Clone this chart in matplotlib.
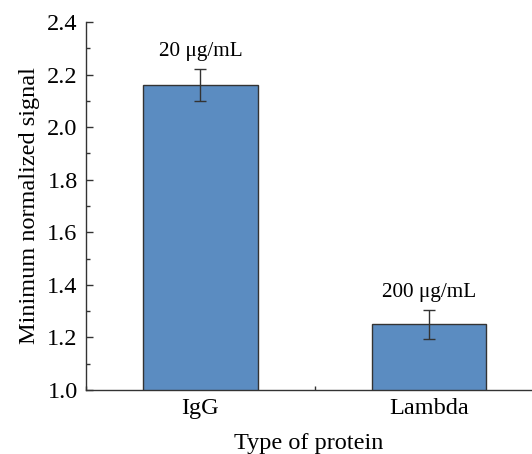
import matplotlib
matplotlib.use("Agg")
import matplotlib.pyplot as plt
from matplotlib.ticker import MultipleLocator

categories = ["IgG", "Lambda"]
values = [2.16, 1.25]
errors = [0.06, 0.055]
labels = ["20 μg/mL", "200 μg/mL"]

plt.rcParams['font.family'] = ['Liberation Serif', 'DejaVu Serif']

fig = plt.figure(figsize=(5.32, 4.54), dpi=100)
ax = fig.add_axes([86/532, 64/454, 446/532, 368/454])

x = list(range(len(categories)))
ax.bar(x, values, width=0.5, color="#5b8cc1", edgecolor="#333333", linewidth=1.0,
       yerr=errors, capsize=4, error_kw=dict(ecolor="#333333", elinewidth=1.0, capthick=1.0),
       zorder=2)

for xi, v, e, lab in zip(x, values, errors, labels):
    ax.text(xi, v + e + 0.03, lab, ha="center", va="bottom", fontsize=15.3)

ax.set_xlim(-0.5, 1.45)
ax.set_ylim(1.0, 2.4)
ax.set_xticks(x)
ax.set_xticklabels(categories)
ax.xaxis.set_minor_locator(MultipleLocator(0.5))
ax.yaxis.set_major_locator(MultipleLocator(0.2))
ax.yaxis.set_minor_locator(MultipleLocator(0.1))
ax.yaxis.set_major_formatter(matplotlib.ticker.FormatStrFormatter('%.1f'))
ax.tick_params(axis='both', which='major', direction='in', length=5, width=1, labelsize=17.5, colors="#333333", labelcolor="black")
ax.tick_params(axis='y', which='major', pad=6)
ax.tick_params(axis='x', which='major', pad=6)
ax.tick_params(axis='both', which='minor', direction='in', length=3, width=1, colors="#333333")
for s in ["top", "right"]:
    ax.spines[s].set_visible(False)
for s in ["left", "bottom"]:
    ax.spines[s].set_color("#333333")
    ax.spines[s].set_linewidth(1.0)

ax.set_xlabel("Type of protein", fontsize=17.5, labelpad=10)
ax.set_ylabel("Minimum normalized signal", fontsize=17.5, labelpad=5)

fig.savefig("out.png", dpi=100)
